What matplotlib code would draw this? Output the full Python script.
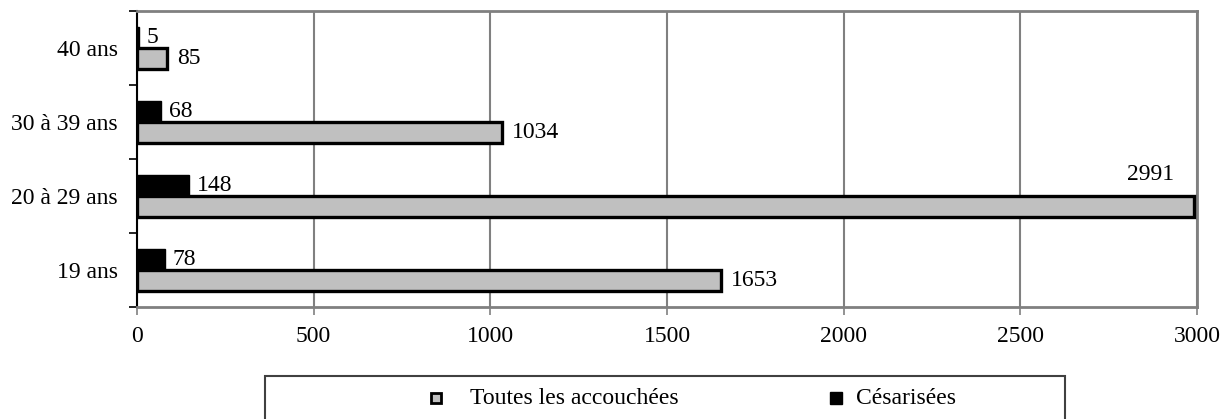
import matplotlib
matplotlib.use("Agg")
import matplotlib.pyplot as plt
from matplotlib.patches import Rectangle
from matplotlib.lines import Line2D
import numpy as np

categories = ["19 ans", "20 à 29 ans", "30 à 39 ans", "40 ans"]
toutes = [1653, 2991, 1034, 85]
cesar = [78, 148, 68, 5]
series_names = ["Toutes les accouchées", "Césarisées"]
xticks = [0, 500, 1000, 1500, 2000, 2500, 3000]

plt.rcParams['font.family'] = ['Liberation Serif', 'DejaVu Serif']
FS = 17

fig = plt.figure(figsize=(12.28, 4.19), dpi=100)
W, H = 1228, 419
ax = fig.add_axes([137/W, 1-307/H, (1197-137)/W, (307-11)/H])

y = np.arange(len(categories))
h = 1/3.5
ax.barh(y - h/2, toutes, height=h, color='#c0c0c0', edgecolor='black', linewidth=2.4, zorder=3)
ax.barh(y + h/2, cesar, height=h, color='black', edgecolor='black', linewidth=1, zorder=3)

for i, (t, c) in enumerate(zip(toutes, cesar)):
    if t > 2800:
        ax.text(t - 55, i + h/2 + 0.15, str(t), ha='right', va='center', fontsize=FS, zorder=4)
    else:
        ax.text(t + 28, i - h/2, str(t), ha='left', va='center', fontsize=FS, zorder=4)
    ax.text(c + 22, i + h/2, str(c), ha='left', va='center', fontsize=FS, zorder=4)

ax.set_xlim(0, 3000)
ax.set_ylim(-0.5, len(categories) - 0.5)
ax.set_xticks(xticks)
ax.set_xticklabels([str(v) for v in xticks], fontsize=FS)
ax.set_yticks(y)
ax.set_yticklabels(categories, fontsize=FS)
ax.set_yticks(np.arange(len(categories) + 1) - 0.5, minor=True)
ax.tick_params(axis='y', which='major', length=0, pad=14)
ax.tick_params(axis='y', which='minor', length=6, width=1.2, color='black')
ax.tick_params(axis='x', which='major', length=6, width=1.2, color='#808080', pad=8)
ax.grid(axis='x', color='#808080', linewidth=1.5, zorder=0)
for s in ['top', 'right', 'bottom']:
    ax.spines[s].set_color('#808080')
    ax.spines[s].set_linewidth(2)
ax.spines['left'].set_color('black')
ax.spines['left'].set_linewidth(1.5)

# legend box
fig.patches.append(Rectangle((265/W, -0.05), (1065-265)/W, 0.05 + 1 - 376/H,
                             transform=fig.transFigure, fill=False, edgecolor='#404040',
                             linewidth=1.5))
ly = 1 - 398/H
fig.add_artist(Line2D([436/W], [ly], transform=fig.transFigure, linestyle='none', marker='s',
                      markersize=6.5, markerfacecolor='#c0c0c0', markeredgecolor='black',
                      markeredgewidth=2))
fig.text(470/W, ly, series_names[0], ha='left', va='center', fontsize=FS)
fig.add_artist(Line2D([836/W], [ly], transform=fig.transFigure, linestyle='none', marker='s',
                      markersize=8, markerfacecolor='black', markeredgecolor='black'))
fig.text(856/W, ly, series_names[1], ha='left', va='center', fontsize=FS)

fig.savefig("out.png", dpi=100)
